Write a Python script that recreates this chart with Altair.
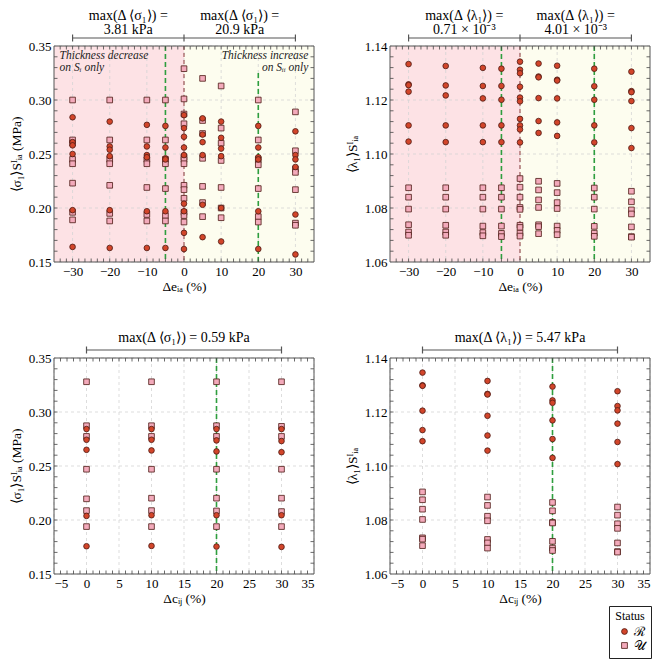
import altair as alt
import pandas as pd

FONT = "Liberation Serif"
W, H = 260, 216
R_LAB, U_LAB = "ℛ", "𝒰"
R_FILL, U_FILL = "#d2452a", "#f3aabb"
MARK_STROKE = "#4d1a14"
GREEN = "#2e9e3e"
ZERO_LINE = "#8c3b3b"

# ---------- data: top-left  <sigma_1> vs Δe_ia ----------
sig_e_R = {
    -30: [0.284, 0.261, 0.258, 0.250, 0.198, 0.164],
    -20: [0.280, 0.257, 0.254, 0.248, 0.198, 0.163],
    -10: [0.277, 0.257, 0.249, 0.247, 0.197, 0.163],
    -5: [0.276, 0.256, 0.246, 0.245, 0.197, 0.163],
    0: [0.286, 0.274, 0.266, 0.256, 0.249, 0.204, 0.197, 0.177, 0.162],
    5: [0.283, 0.268, 0.261, 0.249, 0.203, 0.173],
    10: [0.280, 0.265, 0.255, 0.248, 0.200, 0.169],
    20: [0.276, 0.256, 0.247, 0.245, 0.197, 0.162],
    30: [0.271, 0.249, 0.245, 0.238, 0.194, 0.157],
}
sig_e_U = {
    -30: [0.300, 0.263, 0.260, 0.245, 0.241, 0.223, 0.196, 0.189],
    -20: [0.300, 0.263, 0.245, 0.241, 0.221, 0.195, 0.188],
    -10: [0.300, 0.263, 0.245, 0.241, 0.219, 0.194, 0.188],
    -5: [0.300, 0.263, 0.245, 0.241, 0.218, 0.193, 0.188],
    0: [0.329, 0.301, 0.287, 0.278, 0.247, 0.245, 0.241, 0.221, 0.217, 0.209, 0.196, 0.193, 0.187],
    5: [0.320, 0.281, 0.269, 0.246, 0.220, 0.205, 0.192],
    10: [0.313, 0.274, 0.260, 0.244, 0.219, 0.200, 0.191],
    20: [0.300, 0.263, 0.245, 0.240, 0.218, 0.192, 0.187],
    30: [0.289, 0.253, 0.236, 0.233, 0.217, 0.186, 0.184],
}

# ---------- data: top-right  <lambda_1> vs Δe_ia ----------
lam_e_R = {
    -30: [1.1333, 1.1258, 1.1255, 1.1231, 1.1106, 1.1046],
    -20: [1.1326, 1.1254, 1.1217, 1.1106, 1.1044],
    -10: [1.1319, 1.1252, 1.1206, 1.1106, 1.1044],
    -5: [1.1316, 1.1252, 1.1201, 1.1106, 1.1044],
    0: [1.1342, 1.1312, 1.1299, 1.1249, 1.1209, 1.1195, 1.1130, 1.1106, 1.1091, 1.1043],
    5: [1.1335, 1.1287, 1.1284, 1.1207, 1.1122, 1.1078],
    10: [1.1327, 1.1275, 1.1272, 1.1206, 1.1117, 1.1067],
    20: [1.1316, 1.1251, 1.1201, 1.1106, 1.1043],
    30: [1.1305, 1.1233, 1.1229, 1.1196, 1.1096, 1.1022],
}
lam_e_U = {
    -30: [1.0875, 1.0840, 1.0796, 1.0738, 1.0711, 1.0699],
    -20: [1.0875, 1.0840, 1.0796, 1.0736, 1.0711, 1.0699],
    -10: [1.0875, 1.0840, 1.0796, 1.0733, 1.0709, 1.0697],
    -5: [1.0875, 1.0840, 1.0796, 1.0733, 1.0706, 1.0694],
    0: [1.0909, 1.0877, 1.0840, 1.0802, 1.0795, 1.0736, 1.0728, 1.0707, 1.0696],
    5: [1.0899, 1.0867, 1.0830, 1.0802, 1.0738, 1.0731, 1.0705],
    10: [1.0891, 1.0857, 1.0820, 1.0798, 1.0733, 1.0717, 1.0701],
    20: [1.0874, 1.0840, 1.0796, 1.0732, 1.0707, 1.0695],
    30: [1.0862, 1.0823, 1.0793, 1.0778, 1.0730, 1.0694, 1.0692],
}

# ---------- data: bottom-left  <sigma_1> vs Δc_ij ----------
sig_c_R = {
    0: [0.2842, 0.2743, 0.2650, 0.2038, 0.1757],
    10: [0.2842, 0.2743, 0.2644, 0.2044, 0.1760],
    20: [0.2842, 0.2737, 0.2635, 0.2044, 0.1754],
    30: [0.2842, 0.2731, 0.2628, 0.2044, 0.1751],
}
sig_c_U = {
    0: [0.3280, 0.2873, 0.2774, 0.2470, 0.2196, 0.2087, 0.1939],
    10: [0.3280, 0.2873, 0.2774, 0.2470, 0.2202, 0.2087, 0.1939],
    20: [0.3280, 0.2873, 0.2774, 0.2470, 0.2202, 0.2084, 0.1939],
    30: [0.3280, 0.2867, 0.2774, 0.2470, 0.2202, 0.2078, 0.1939],
}

# ---------- data: bottom-right  <lambda_1> vs Δc_ij ----------
lam_c_R = {
    0: [1.1346, 1.1299, 1.1297, 1.1205, 1.1133, 1.1092],
    10: [1.1315, 1.1267, 1.1265, 1.1186, 1.1113, 1.1057],
    20: [1.1294, 1.1243, 1.1234, 1.1169, 1.1100, 1.1030],
    30: [1.1277, 1.1222, 1.1206, 1.1157, 1.1089, 1.1007],
}
lam_c_U = {
    0: [1.0904, 1.0875, 1.0840, 1.0802, 1.0734, 1.0729, 1.0705],
    10: [1.0885, 1.0854, 1.0814, 1.0797, 1.0728, 1.0715, 1.0696],
    20: [1.0865, 1.0834, 1.0791, 1.0789, 1.0721, 1.0696, 1.0687],
    30: [1.0848, 1.0818, 1.0786, 1.0769, 1.0715, 1.0683, 1.0681],
}

# ---------- axes ticks ----------
e_major = [-30, -20, -10, 0, 10, 20, 30]
e_minor = [round(-30 + k * 10 / 6, 4) for k in range(-2, 39)]
c_major = [-5, 0, 5, 10, 15, 20, 25, 30, 35]
c_minor = list(range(-4, 35))
sig_major = [0.15, 0.20, 0.25, 0.30, 0.35]
sig_minor = [round(0.16 + 0.01 * k, 3) for k in range(19)]
lam_major = [1.06, 1.08, 1.10, 1.12, 1.14]
lam_minor = [round(1.064 + 0.004 * k, 4) for k in range(19)]

SIG_TITLE = "⟨σ₁⟩Sᴵᵢₐ (MPa)"
LAM_TITLE = "⟨λ₁⟩Sᴵᵢₐ"


def points_df(R, U):
    rows = []
    for x, ys in U.items():
        rows += [{"x": x, "y": y, "Status": U_LAB} for y in ys]
    for x, ys in R.items():
        rows += [{"x": x, "y": y, "Status": R_LAB} for y in ys]
    return pd.DataFrame(rows)


LEGEND = alt.Legend(
    title="Status", orient="none", legendX=555, legendY=560, direction="vertical",
    strokeColor="#222", fillColor="white", padding=5, cornerRadius=0,
    titleFont=FONT, titleFontSize=12, titleFontWeight="normal", titleColor="black",
    titleAnchor="middle", titleAlign="center", titlePadding=2,
    labelFont=FONT, labelFontSize=13, labelColor="black", labelOffset=3, symbolOffset=4,
    symbolSize=34, symbolStrokeColor=MARK_STROKE, symbolStrokeWidth=0.8, rowPadding=0,
)


def panel(R, U, xdom, xmaj, xmin, ydom, ymaj, ymin, xtitle, ytitle,
          shade, vlines, segs, seg_ticks, labels, label_y, notes):
    xs = alt.Scale(domain=xdom, nice=False, zero=False)
    ys = alt.Scale(domain=ydom, nice=False, zero=False)
    ax_x = alt.Axis(values=xmaj, format="d", titlePadding=1)
    ax_y = alt.Axis(values=ymaj, format=".2f", titlePadding=5)

    def X():
        return alt.X("x:Q", scale=xs, axis=ax_x, title=xtitle)

    def Y():
        return alt.Y("y:Q", scale=ys, axis=ax_y, title=ytitle)

    layers = []
    if shade:
        sh = pd.DataFrame({"x": [xdom[0], 0], "x2": [0, xdom[1]],
                           "y": [ydom[0]] * 2, "y2": [ydom[1]] * 2,
                           "c": ["#fde2e5", "#fdfdef"]})
        layers.append(alt.Chart(sh).mark_rect().encode(
            x=X(), x2="x2:Q", y=Y(), y2="y2:Q", fill=alt.Fill("c:N", scale=None)))
    # grid
    grid = dict(color="#d4d4d4", strokeDash=[3, 3], strokeWidth=0.8)
    layers.append(alt.Chart(pd.DataFrame({"x": xmaj})).mark_rule(**grid).encode(x=X()))
    layers.append(alt.Chart(pd.DataFrame({"y": ymaj})).mark_rule(**grid).encode(y=Y()))
    # vertical reference lines
    for v in vlines:
        d = {"x": [v["x"]]}
        enc = {"x": X()}
        if "y" in v:
            d["y"] = [v["y"][0]]
            d["y2"] = [v["y"][1]]
            enc["y"] = Y()
            enc["y2"] = "y2:Q"
        layers.append(alt.Chart(pd.DataFrame(d)).mark_rule(
            color=v["color"], strokeDash=v["dash"], strokeWidth=v["w"]).encode(**enc))
    # points
    layers.append(alt.Chart(points_df(R, U)).mark_point(
        filled=True, size=32, opacity=1, stroke=MARK_STROKE, strokeWidth=0.8).encode(
        x=X(), y=Y(),
        color=alt.Color("Status:N", scale=alt.Scale(domain=[R_LAB, U_LAB], range=[R_FILL, U_FILL]),
                        legend=LEGEND),
        shape=alt.Shape("Status:N", scale=alt.Scale(domain=[R_LAB, U_LAB], range=["circle", "square"]),
                        legend=LEGEND),
    ))
    # inward ticks
    tk = dict(color="#444", strokeWidth=0.8)
    tx = alt.Chart(pd.DataFrame({"x": xmin})).mark_rule(**tk)
    ty = alt.Chart(pd.DataFrame({"y": ymin})).mark_rule(**tk)
    layers += [
        tx.encode(x=X(), y=alt.value(H), y2=alt.value(H - 3.5)),
        tx.encode(x=X(), y=alt.value(0), y2=alt.value(3.5)),
        ty.encode(y=Y(), x=alt.value(0), x2=alt.value(3.5)),
        ty.encode(y=Y(), x=alt.value(W), x2=alt.value(W - 3.5)),
    ]
    # frame
    fr = pd.DataFrame({"x": [xdom[0]], "x2": [xdom[1]], "y": [ydom[0]], "y2": [ydom[1]]})
    layers.append(alt.Chart(fr).mark_rect(fillOpacity=0, stroke="#555", strokeWidth=1).encode(
        x=X(), x2="x2:Q", y=Y(), y2="y2:Q"))
    # notes inside plot
    for n in notes:
        layers.append(alt.Chart(pd.DataFrame({"x": [n["x"]], "y": [n["y"]], "t": [n["t"]]})).mark_text(
            font=FONT, fontStyle="italic", fontSize=11.5, align=n["align"], baseline="top",
            lineBreak="\n", lineHeight=11.5, color="#222").encode(x=X(), y=Y(), text="t:N"))
    # brackets above plot
    bc = "#555"
    layers.append(alt.Chart(pd.DataFrame(segs)).mark_rule(color=bc, strokeWidth=1.2).encode(
        x=X(), x2="x2:Q", y=alt.value(-8)))
    layers.append(alt.Chart(pd.DataFrame({"x": seg_ticks})).mark_rule(color=bc, strokeWidth=1.2).encode(
        x=X(), y=alt.value(-11.5), y2=alt.value(-4.5)))
    layers.append(alt.Chart(pd.DataFrame(labels)).mark_text(
        font=FONT, fontSize=14, baseline="bottom", lineBreak="\n", lineHeight=13.5, color="black").encode(
        x=X(), y=alt.value(label_y), text="t:N"))
    return alt.layer(*layers).properties(width=W, height=H)


tl = panel(sig_e_R, sig_e_U, [-35, 35], e_major, e_minor, [0.15, 0.35], sig_major, sig_minor,
           "Δeᵢₐ (%)", SIG_TITLE, True,
           [{"x": 0, "color": ZERO_LINE, "dash": [4, 3], "w": 1.0},
            {"x": -5, "color": GREEN, "dash": [5, 3], "w": 1.6},
            {"x": 20, "color": GREEN, "dash": [5, 3], "w": 1.6, "y": [0.15, 0.326]}],
           {"x": [-30, 0], "x2": [0, 30]}, [-30, 0, 30],
           {"x": [-15, 15], "t": ["max(Δ ⟨σ₁⟩) =\n3.81 kPa", "max(Δ ⟨σ₁⟩) =\n20.9 kPa"]}, -23,
           [{"x": -33.5, "y": 0.346, "t": "Thickness decrease\non Sᵢ only", "align": "left"},
            {"x": 33.5, "y": 0.346, "t": "Thickness increase\non Sᵢᵢ only", "align": "right"}])

tr = panel(lam_e_R, lam_e_U, [-35, 35], e_major, e_minor, [1.06, 1.14], lam_major, lam_minor,
           "Δeᵢₐ (%)", LAM_TITLE, True,
           [{"x": 0, "color": ZERO_LINE, "dash": [4, 3], "w": 1.0},
            {"x": -5, "color": GREEN, "dash": [5, 3], "w": 1.6},
            {"x": 20, "color": GREEN, "dash": [5, 3], "w": 1.6}],
           {"x": [-30, 0], "x2": [0, 30]}, [-30, 0, 30],
           {"x": [-15, 15], "t": ["max(Δ ⟨λ₁⟩) =\n0.71 × 10⁻³", "max(Δ ⟨λ₁⟩) =\n4.01 × 10⁻³"]}, -23,
           [])

bl = panel(sig_c_R, sig_c_U, [-5, 35], c_major, c_minor, [0.15, 0.35], sig_major, sig_minor,
           "Δcᵢⱼ (%)", SIG_TITLE, False,
           [{"x": 20, "color": GREEN, "dash": [5, 3], "w": 1.6}],
           {"x": [0], "x2": [30]}, [0, 30],
           {"x": [15], "t": ["max(Δ ⟨σ₁⟩) = 0.59 kPa"]}, -13, [])

br = panel(lam_c_R, lam_c_U, [-5, 35], c_major, c_minor, [1.06, 1.14], lam_major, lam_minor,
           "Δcᵢⱼ (%)", LAM_TITLE, False,
           [{"x": 20, "color": GREEN, "dash": [5, 3], "w": 1.6}],
           {"x": [0], "x2": [30]}, [0, 30],
           {"x": [15], "t": ["max(Δ ⟨λ₁⟩) = 5.47 kPa"]}, -13, [])

chart = alt.concat(tl, tr, bl, br, columns=2, spacing={"row": 96, "column": 76}, bounds="flush").properties(
    padding={"left": 0, "top": 0, "right": 2, "bottom": 2},
).configure_view(stroke="transparent").configure_axis(
    labelFont=FONT, titleFont=FONT, labelFontSize=13, titleFontSize=13.5, titleFontWeight="normal",
    labelColor="black", titleColor="black", grid=False, ticks=False, domain=False, labelPadding=3,
)

chart.save("out.html", embed_options={"renderer": "svg", "actions": False})
